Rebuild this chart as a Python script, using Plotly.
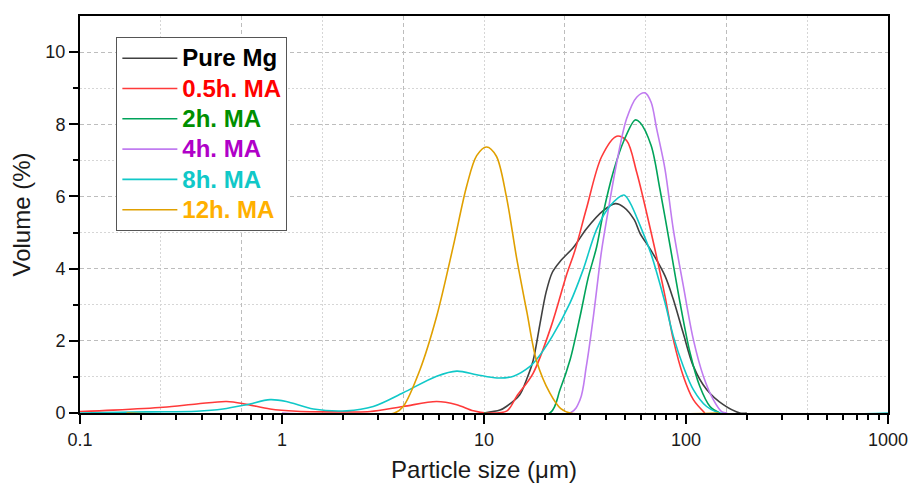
import plotly.graph_objects as go

# ---- data (particle size in µm, volume in %) ----
series_names = ["Pure Mg", "0.5h. MA", "2h. MA", "4h. MA", "8h. MA", "12h. MA"]

pure_mg_x = [10, 12, 12.9, 15, 16.3, 17.5, 18.9, 20.3, 21.8, 23.8, 27.8, 32.1, 38.8, 44.7,
             49.3, 55.5, 59.2, 67.2, 78.7, 86.5, 97, 108.7, 126.5, 153, 185, 200]
pure_mg_y = [0, 0.08, 0.18, 0.5, 0.95, 1.45, 2.45, 3.35, 3.9, 4.2, 4.6, 5.1, 5.6, 5.8,
             5.7, 5.35, 4.98, 4.5, 3.8, 3.15, 2.2, 1.3, 0.65, 0.23, 0.0, 0]

ma05_x = [0.1, 0.146, 0.258, 0.378, 0.532, 0.668, 0.873, 1.18, 2.09, 2.73, 3.98, 5.83, 7.33,
          8.86, 10.3, 13.0, 14.5, 17.5, 21.5, 25.7, 28.2, 32.1, 38.2, 45.4, 50.8, 57, 67.2,
          78.7, 86.5, 97, 108.7, 124]
ma05_y = [0.04, 0.08, 0.16, 0.25, 0.32, 0.24, 0.11, 0.05, 0.03, 0.04, 0.18, 0.32, 0.23,
          0.06, 0.0, 0.06, 0.46, 1.1, 2.4, 3.85, 4.5, 5.65, 7.1, 7.67, 7.55, 6.67, 5.0,
          3.24, 2.04, 1.02, 0.37, 0]

ma2_x = [10, 21.2, 23.8, 26.7, 29.9, 32.8, 36.1, 38.8, 43.6, 49.3, 56, 59.2, 67.2, 74.3,
         83.4, 93.4, 104.7, 117, 131.5, 147]
ma2_y = [0, 0, 0.65, 1.48, 2.68, 3.75, 4.6, 5.5, 6.67, 7.55, 8.12, 8.05, 7.41, 6.2,
         4.63, 3.06, 1.67, 0.74, 0.18, 0]

ma4_x = [1, 26.7, 29.9, 32.1, 34.8, 36.8, 38.2, 40.5, 45.4, 50.8, 57, 62.7, 67.2, 71.6,
         78.7, 86.5, 97, 108.7, 121.9, 136.5, 150, 160]
ma4_y = [0, 0, 0.37, 1.29, 2.68, 3.79, 4.5, 5.37, 6.94, 8.15, 8.75, 8.87, 8.61, 7.87,
         6.76, 5.09, 3.52, 2.04, 1.02, 0.37, 0.04, 0]

ma8_x = [0.1, 0.214, 0.378, 0.51, 0.668, 0.873, 1.05, 1.43, 2.09, 2.83, 3.98, 5.83, 7.33,
         9.2, 11.6, 14, 16.9, 18.2, 21.8, 26.7, 31, 36.1, 42.1, 49.3, 52.8, 59.2, 67.2,
         78.7, 86.5, 97, 108.7, 126.5, 147, 1000]
ma8_y = [0, 0.03, 0.05, 0.11, 0.23, 0.37, 0.32, 0.11, 0.06, 0.18, 0.56, 1.02, 1.16,
         1.06, 0.97, 1.02, 1.29, 1.48, 2.13, 3.06, 3.98, 5.09, 5.74, 6.04, 5.83, 5.2, 4.4,
         3.06, 2.13, 1.29, 0.65, 0.18, 0, 0]

ma12_x = [0.17, 3.6, 3.98, 4.82, 5.83, 7.05, 8.21, 9.2, 10.3, 11.5, 12.9, 14.5, 16.3,
          18.2, 21.2, 24, 26.7, 145]
ma12_y = [0, 0, 0.18, 1.2, 2.68, 4.63, 6.29, 7.13, 7.37, 7.12, 6.0, 4.3, 2.8,
          1.45, 0.55, 0.12, 0, 0]

line_colors = ["#404040", "#FF3A3A", "#00A35A", "#C07CF0", "#10C8C8", "#E0A000"]
text_colors = ["#000000", "#FF0000", "#008F00", "#B000C8", "#10C8C8", "#FFB000"]

x_tick_vals = [0.1, 1, 10, 100, 1000]
x_tick_text = ["0.1", "1", "10", "100", "1000"]
x_minor_vals = [m * 10 ** e for e in range(-1, 3) for m in range(2, 10)]
y_tick_vals = [0, 2, 4, 6, 8, 10]
y_minor_vals = [1, 3, 5, 7, 9]

xs = [pure_mg_x, ma05_x, ma2_x, ma4_x, ma8_x, ma12_x]
ys = [pure_mg_y, ma05_y, ma2_y, ma4_y, ma8_y, ma12_y]

FONT = "Arial, 'Liberation Sans', sans-serif"
TXT = "#1a1a1a"

fig = go.Figure()
for i, name in enumerate(series_names):
    fig.add_trace(go.Scatter(
        x=xs[i], y=ys[i], mode="lines",
        line=dict(color=line_colors[i], width=1.6, shape="spline", smoothing=0.9),
        name=f"<b><span style='color:{text_colors[i]};font-size:24px'>{name}</span></b>",
    ))

# invisible helper trace so the overlay grid axis exists
fig.add_trace(go.Scatter(x=[], y=[], xaxis="x2", showlegend=False, hoverinfo="skip"))

fig.update_layout(
    width=910, height=488,
    margin=dict(l=80, r=22, t=16, b=75),
    plot_bgcolor="white", paper_bgcolor="white",
    font=dict(family=FONT, color=TXT, size=18),
    showlegend=True,
    legend=dict(
        x=0.045, y=0.947, xanchor="left", yanchor="top",
        bordercolor="#555555", borderwidth=1, bgcolor="white",
        font=dict(family=FONT, size=21, color="black"),
        traceorder="normal", itemwidth=55,
    ),
    xaxis=dict(
        type="log", range=[-1, 3], automargin=False,
        tickvals=x_tick_vals, ticktext=x_tick_text,
        ticks="outside", ticklen=9, tickwidth=1.5, tickcolor="black",
        showline=True, linewidth=2, linecolor="black", mirror=True,
        showgrid=False, zeroline=False,
        minor=dict(tickvals=x_minor_vals, ticks="outside", ticklen=5, tickwidth=1.5,
                   tickcolor="black", showgrid=False),
        tickfont=dict(size=18, color=TXT),
        title=dict(text="Particle size (μm)", font=dict(size=24, color=TXT), standoff=13),
    ),
    xaxis2=dict(
        overlaying="x", anchor="y", type="linear", range=[-1, 3],
        tick0=-1, dtick=0.8, showticklabels=False, ticks="",
        showline=False, zeroline=False,
        showgrid=True, gridcolor="#BDBDBD", griddash="4px,3px", gridwidth=1,
        minor=dict(tick0=-1, dtick=0.4, ticks="", showgrid=True,
                   gridcolor="#D6D6D6", griddash="2px,2px", gridwidth=1),
    ),
    yaxis=dict(
        range=[0, 11], automargin=False,
        tickvals=y_tick_vals,
        ticks="outside", ticklen=9, tickwidth=1.5, tickcolor="black",
        showline=True, linewidth=2, linecolor="black", mirror=True,
        zeroline=False,
        showgrid=True, gridcolor="#BDBDBD", griddash="4px,3px", gridwidth=1,
        minor=dict(tickvals=y_minor_vals, ticks="outside", ticklen=5, tickwidth=1.5,
                   tickcolor="black", showgrid=True, gridcolor="#D6D6D6",
                   griddash="2px,2px", gridwidth=1),
        tickfont=dict(size=18, color=TXT),
        title=dict(text="Volume (%)", font=dict(size=24, color=TXT), standoff=8),
    ),
)

fig.write_html(
    "out.html",
    config={"displayModeBar": False},
    post_script=(
        "document.documentElement.style.margin='0';"
        "document.documentElement.style.overflow='hidden';"
        "document.body.style.margin='0';"
        "document.body.style.overflow='hidden';"
    ),
)
